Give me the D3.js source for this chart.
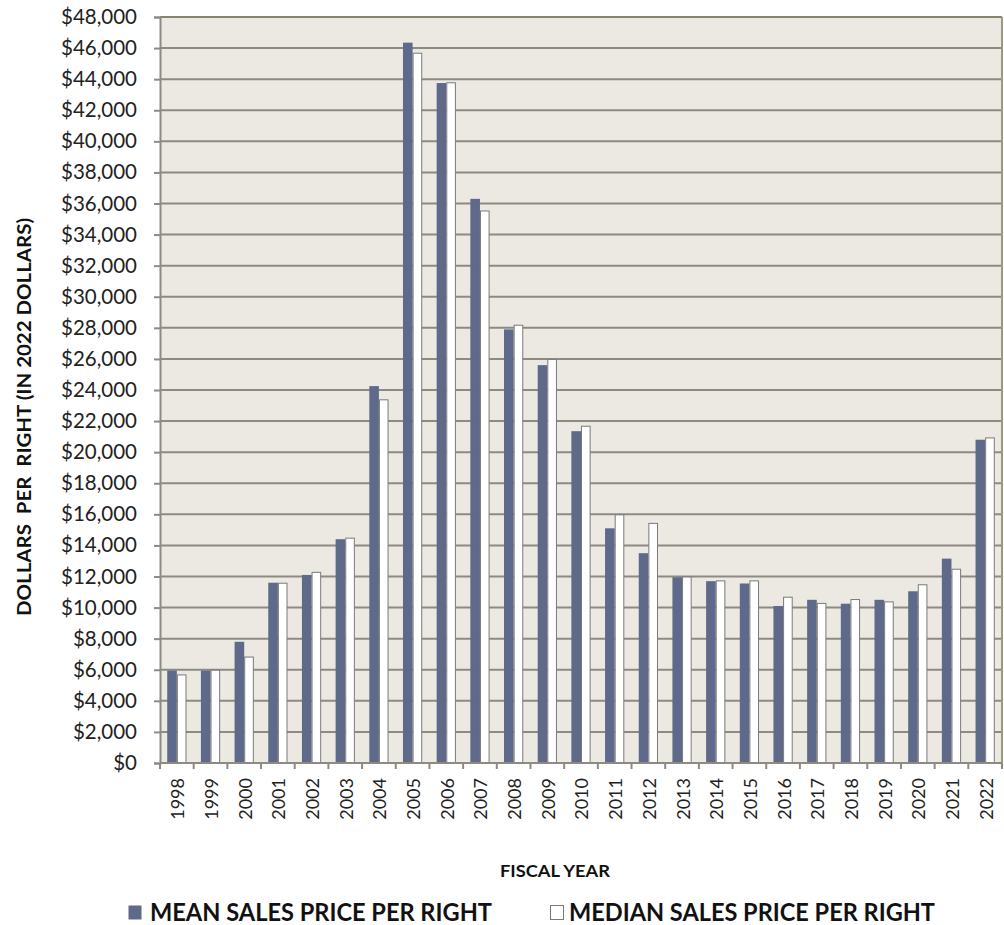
<!DOCTYPE html>
<html>
<head>
<meta charset="utf-8">
<script src="https://cdn.jsdelivr.net/npm/d3@7"></script>
<style>
  html, body { margin: 0; padding: 0; background: #ffffff; }
  svg { display: block; font-family: Lato, "Open Sans", sans-serif; }
</style>
</head>
<body>
<svg id="chart" width="1004" height="925"></svg>
<script>
// Fiscal years on the category axis
const years = ["1998","1999","2000","2001","2002","2003","2004","2005","2006","2007",
               "2008","2009","2010","2011","2012","2013","2014","2015","2016","2017",
               "2018","2019","2020","2021","2022"];

// Mean sales price per right (2022 dollars)
const meanPrice = [5950, 5950, 7800, 11600, 12100, 14400, 24250, 46350, 43750, 36300,
                   27900, 25600, 21350, 15100, 13500, 11950, 11700, 11550, 10100, 10500,
                   10250, 10500, 11050, 13150, 20800];

// Median sales price per right (2022 dollars)
const medianPrice = [5700, 6000, 6850, 11600, 12300, 14500, 23400, 45700, 43800, 35550,
                     28200, 26000, 21700, 16000, 15450, 12000, 11750, 11750, 10700, 10300,
                     10550, 10400, 11500, 12500, 20950];

// Value axis ticks
const yTicks = d3.range(0, 48001, 2000);

const seriesNames = ["MEAN SALES PRICE PER RIGHT", "MEDIAN SALES PRICE PER RIGHT"];

const svg = d3.select("#chart");
const plot = { left: 160, right: 1002, top: 17, bottom: 763 };

const x = d3.scaleBand().domain(years).range([plot.left, plot.right]).padding(0);
const xInner = d3.scaleBand().domain(["mean", "median"]).range([0, x.bandwidth()])
  .paddingInner(0).paddingOuter(0.75);
const y = d3.scaleLinear().domain([0, 48000]).range([plot.bottom, plot.top]);

const gridColor = "#8d8a82";
const meanColor = "#5f6a8b";

// Plot background
svg.append("rect")
  .attr("x", plot.left).attr("y", plot.top)
  .attr("width", plot.right - plot.left).attr("height", plot.bottom - plot.top)
  .attr("fill", "#ece9e2");

// Horizontal gridlines
svg.append("g").selectAll("line").data(yTicks.filter(d => d > 0 && d < 48000)).join("line")
  .attr("x1", plot.left).attr("x2", plot.right)
  .attr("y1", d => y(d)).attr("y2", d => y(d))
  .attr("stroke", gridColor).attr("stroke-width", 2);

// Top and right frame of the plot area
svg.append("line").attr("x1", plot.left).attr("x2", plot.right)
  .attr("y1", plot.top).attr("y2", plot.top)
  .attr("stroke", "#85836a").attr("stroke-width", 2);
svg.append("line").attr("x1", plot.right).attr("x2", plot.right)
  .attr("y1", plot.top).attr("y2", plot.bottom)
  .attr("stroke", "#9c9a7e").attr("stroke-width", 2);

// Bars
const groups = svg.append("g").selectAll("g").data(years).join("g")
  .attr("transform", d => `translate(${x(d)},0)`);

groups.append("rect")
  .attr("x", xInner("mean"))
  .attr("y", (d, i) => y(meanPrice[i]))
  .attr("width", xInner.bandwidth())
  .attr("height", (d, i) => y(0) - y(meanPrice[i]))
  .attr("fill", meanColor);

groups.append("rect")
  .attr("x", xInner("median") + 0.5)
  .attr("y", (d, i) => y(medianPrice[i]) + 0.5)
  .attr("width", xInner.bandwidth() - 1)
  .attr("height", (d, i) => y(0) - y(medianPrice[i]) - 0.5)
  .attr("fill", "#ffffff")
  .attr("stroke", "#7a7a7a").attr("stroke-width", 1);

// Y axis
const yAxis = d3.axisLeft(y).tickValues(yTicks)
  .tickFormat(d => "$" + d3.format(",")(d))
  .tickSize(6).tickPadding(17);
const gy = svg.append("g").attr("transform", `translate(${plot.left},0)`).call(yAxis);
gy.select(".domain").attr("stroke", gridColor).attr("stroke-width", 2);
gy.selectAll(".tick line").attr("stroke", gridColor).attr("stroke-width", 2);
gy.selectAll(".tick text")
  .attr("font-family", "Lato, sans-serif").attr("font-size", 20.5).attr("fill", "#222");

// X axis with ticks on category boundaries
const gx = svg.append("g").attr("transform", `translate(0,${plot.bottom})`);
gx.append("line").attr("x1", plot.left).attr("x2", plot.right)
  .attr("y1", 0).attr("y2", 0).attr("stroke", gridColor).attr("stroke-width", 2);
const bounds = years.map(d => x(d)).concat([plot.right]);
gx.selectAll("line.tk").data(bounds).join("line").attr("class", "tk")
  .attr("x1", d => d).attr("x2", d => d).attr("y1", 0).attr("y2", 6)
  .attr("stroke", gridColor).attr("stroke-width", 2);
gx.selectAll("text").data(years).join("text")
  .attr("transform", d => `translate(${x(d) + x.bandwidth() / 2 + 1},15) rotate(-90)`)
  .attr("text-anchor", "end").attr("dy", "0.36em")
  .attr("font-size", 18).attr("fill", "#222")
  .text(d => d);

// Axis titles
svg.append("text")
  .attr("transform", "translate(25,417) rotate(-90)")
  .attr("text-anchor", "middle").attr("dy", "0.36em")
  .attr("font-weight", "bold").attr("font-size", 18).attr("fill", "#111")
  .attr("textLength", 398).attr("lengthAdjust", "spacingAndGlyphs")
  .style("white-space", "pre")
  .text("DOLLARS  PER  RIGHT (IN 2022 DOLLARS)");

svg.append("text")
  .attr("x", 555).attr("y", 877)
  .attr("text-anchor", "middle")
  .attr("font-weight", "bold").attr("font-size", 17).attr("fill", "#111")
  .attr("textLength", 110).attr("lengthAdjust", "spacingAndGlyphs")
  .text("FISCAL YEAR");

// Legend
const legend = [
  { name: seriesNames[0], box: 128, tx: 150, tw: 342, fill: meanColor, stroke: "none" },
  { name: seriesNames[1], box: 550, tx: 569, tw: 366, fill: "#ffffff", stroke: "#7a7a7a" }
];
const lg = svg.append("g").selectAll("g").data(legend).join("g");
lg.append("rect")
  .attr("x", d => d.box + 0.5).attr("y", 905.5).attr("width", 13).attr("height", 14)
  .attr("fill", d => d.fill).attr("stroke", d => d.stroke);
lg.append("text")
  .attr("x", d => d.tx).attr("y", 921)
  .attr("font-weight", "bold").attr("font-size", 24).attr("fill", "#111")
  .attr("textLength", d => d.tw).attr("lengthAdjust", "spacingAndGlyphs")
  .text(d => d.name);
</script>
</body>
</html>
